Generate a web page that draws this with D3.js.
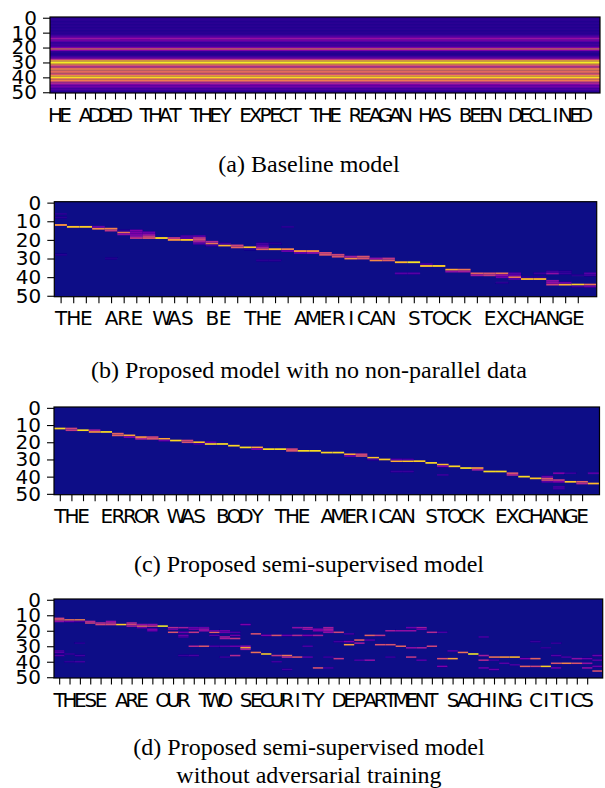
<!DOCTYPE html>
<html>
<head>
<meta charset="utf-8">
<script src="https://d3js.org/d3.v7.min.js"></script>
<style>
    html, body { margin: 0; padding: 0; background: #fff; }
    svg { display: block; }
    .tick text { font-family: "DejaVu Sans"; font-size: 20px; fill: #000; }
    .caption { font-family: "Liberation Serif"; font-size: 24px; fill: #000; text-anchor: middle; }
</style>
</head>
<body>
<div id="chart"></div>
<script>
// tick labels, one character per frame
const textA = "HE ADDED THAT THEY EXPECT THE REAGAN HAS BEEN DECLINED";
const textB = "THE ARE WAS BE THE AMERICAN STOCK EXCHANGE";
const textC = "THE ERROR WAS BODY THE AMERICAN STOCK EXCHANGE";
const textD = "THESE ARE OUR TWO SECURITY DEPARTMENT SACHING CITICS";
const yTicks = [0, 10, 20, 30, 40, 50];

// baseline model: same attention on every frame, one value per row
const baselineRows = [
    .06, .06, .05, .05, .05, .05, .05, .05, .05, .05, .05, .07, .1,
    .22, .32, .28, .15, .1, .1, .12, .25, .62, .25, .08, .03, .05,
    .1, .2, .45, .85, .97, .88, .55, .45, .62, .72, .62, .65, .55,
    .8, .93, .75, .68, .55, .38, .28, .22, .18, .13, .08, .05,
];
// small frame to frame change of the baseline strength
const baselineGain = [
    1, 1, 1, 1, 1, .99, .98, .97, .97, .97, 1, 1, 1, 1, .98, .98, 1, 1,
    1, 1, .98, .98, .98, 1, 1, 1, 1, 1, 1, 1, .98, .98, .98, 1, 1, .98,
    .98, 1, 1, 1, 1, .98, .98, .98, .98, 1, 1, 1, 1, 1, .98, .98, .98, 1, 1,
];

// attention per frame as [row, value]
const attentionB = [
    [[12, .75], [6, .05], [8, .05], [28, .04]],
    [[13, .88]], [[13, .9]],
    [[14, .72], [13, .2]], [[14, .7], [15, .45], [30, .03]],
    [[16, .65], [17, .3], [15, .05]],
    [[19, .45], [15, .25], [16, .25], [17, .25], [18, .28]],
    [[19, .55], [18, .45], [17, .3], [16, .2]],
    [[19, .92]], [[20, .75], [19, .45]],
    [[20, .88], [19, .15], [18, .12]],
    [[20, .5], [19, .45], [21, .35], [22, .15], [18, .15]],
    [[22, .65], [21, .4], [23, .1]],
    [[23, .85], [22, .1]], [[24, .6], [23, .5]], [[24, .88], [25, .05]],
    [[25, .6], [24, .35], [23, .15], [22, .12], [31, .05]],
    [[25, .85], [31, .05], [22, .04]],
    [[25, .7], [26, .2], [13, .05]],
    [[26, .75], [27, .2]], [[26, .72], [27, .3]], [[28, .55], [27, .5]],
    [[29, .55], [28, .5]], [[30, .72], [29, .35]], [[30, .55], [29, .55]],
    [[31, .72], [30, .3]], [[31, .6], [30, .45]],
    [[32, .85], [38, .15]], [[32, .95], [38, .15]],
    [[34, .88], [33, .12]], [[34, .9]],
    [[36, .8], [37, .3]], [[36, .65], [37, .35]],
    [[38, .6], [39, .35]], [[38, .55], [39, .45]],
    [[38, .65], [39, .3], [40, .2], [43, .05]],
    [[40, .65], [41, .15], [39, .2], [38, .15]],
    [[41, .85], [40, .05]], [[41, .85], [38, .08], [40, .05]],
    [[44, .5], [43, .3], [42, .28], [38, .3], [37, .1]],
    [[44, .82], [43, .2], [38, .08], [37, .06]],
    [[44, .9], [45, .1], [39, .05]],
    [[44, .65], [45, .2], [38, .15], [39, .1]],
];

const attentionC = [
    [[12, .92]], [[12, .5], [13, .45]], [[13, .93]],
    [[14, .75], [13, .35]], [[14, .93]], [[15, .6], [16, .6]],
    [[16, .8], [17, .25]], [[17, .75], [18, .4]], [[18, .55], [17, .5]],
    [[18, .8], [19, .2]], [[19, .92]], [[20, .55], [19, .5]],
    [[20, .88], [21, .1]], [[21, .92], [20, .15]], [[21, .93]], [[22, .92]],
    [[23, .93]], [[23, .8], [24, .25]], [[24, .93]], [[24, .93]],
    [[25, .55], [24, .5]], [[25, .93]], [[25, .93]], [[26, .92]], [[26, .93]],
    [[27, .8], [28, .2]], [[28, .55], [27, .5]], [[29, .88], [30, .1]],
    [[30, .9]], [[31, .82], [30, .15], [37, .08]], [[31, .88], [30, .12], [37, .08]],
    [[31, .9]], [[32, .92]], [[33, .85], [34, .25], [39, .08]], [[34, .92]],
    [[35, .93]], [[35, .78], [36, .35]], [[37, .93]], [[37, .93]],
    [[38, .55], [39, .4]], [[40, .93]], [[41, .88]],
    [[41, .55], [42, .5], [43, .15], [40, .2]],
    [[42, .45], [43, .25], [38, .25], [46, .12], [47, .1]],
    [[43, .88], [38, .08]], [[43, .6], [44, .4]], [[44, .85], [38, .15]],
];

const attentionD = [
    [[13, .55], [12, .5], [14, .3], [33, .12], [34, .15], [36, .15]],
    [[13, .65], [14, .2], [35, .07], [40, .06]],
    [[13, .7], [14, .12], [28, .05], [36, .1], [40, .1]],
    [[15, .5], [14, .4]], [[15, .4], [16, .5]], [[14, .3], [15, .4], [16, .5]],
    [[16, .9]], [[15, .4], [16, .5], [17, .35]],
    [[17, .65], [16, .3], [18, .2]], [[17, .5], [16, .3], [19, .25], [20, .2]],
    [[17, .97]], [[18, .4], [19, .2], [21, .55]],
    [[18, .35], [21, .2], [23, .2], [24, .12], [36, .08]],
    [[18, .2], [19, .2], [21, .45], [30, .4], [36, .12]],
    [[18, .2], [19, .3], [20, .3], [30, .55]],
    [[21, .6], [20, .2], [23, .15], [30, .12]],
    [[20, .2], [21, .2], [24, .35], [25, .35], [30, .15], [37, .08]],
    [[25, .45], [23, .2], [21, .12], [30, .2], [36, .4]],
    [[16, .25], [31, .8], [32, .35], [30, .3]],
    [[22, .55], [34, .65]], [[23, .25], [35, .9]],
    [[23, .55], [36, .45], [40, .1]],
    [[23, .2], [36, .65], [37, .4], [45, .1]],
    [[18, .3], [23, .4], [37, .55]],
    [[18, .35], [19, .3], [23, .25], [30, .12], [37, .15]],
    [[19, .25], [20, .25], [23, .35], [44, .55]],
    [[18, .35], [19, .35], [20, .3], [21, .3], [37, .08], [44, .1]],
    [[21, .5], [27, .1], [38, .45]],
    [[29, .78], [27, .25], [22, .1]],
    [[26, .6], [28, .35], [39, .12]],
    [[23, .6], [26, .15], [39, .3]],
    [[23, .45], [29, .55]],
    [[20, .35], [29, .55], [37, .08]],
    [[20, .3], [30, .6]],
    [[18, .2], [20, .3], [31, .3], [37, .45]],
    [[18, .35], [19, .2], [31, .35], [39, .15]],
    [[21, .4], [30, .5]],
    [[21, .12], [38, .55], [43, .25]],
    [[33, .15], [38, .8]],
    [[34, .65]], [[35, .97]],
    [[24, .12], [36, .35], [39, .4], [44, .2]],
    [[37, .65], [39, .1], [45, .2]],
    [[37, .75], [41, .15]],
    [[37, .85], [42, .12]],
    [[38, .25], [43, .6]],
    [[38, .6], [27, .08], [43, .5]],
    [[43, .9], [31, .07]],
    [[41, .55], [36, .15], [44, .2], [28, .07]],
    [[41, .7], [37, .12]],
    [[41, .55], [38, .3]],
    [[41, .3], [44, .3], [38, .2]],
    [[46, .55], [36, .2], [43, .2], [39, .15]],
];

const captionsA = ["(a) Baseline model"];
const captionsB = ["(b) Proposed model with no non-parallel data"];
const captionsC = ["(c) Proposed semi-supervised model"];
const captionsD = ["(d) Proposed semi-supervised model", "without adversarial training"];

const rowCount = 51;
const width = 605;
const height = 788;

const svg = d3
    .select("#chart")
    .append("svg")
    .attr("width", width)
    .attr("height", height);

// the cells of the original are resampled, so soften them a little
svg.append("defs")
    .append("filter")
    .attr("id", "soft")
    .append("feGaussianBlur")
    .attr("stdDeviation", 0.35);

const color = d3.scaleSequential(d3.interpolatePlasma).domain([0, 1]);

function drawPanel(p) {
    const chars = p.text.split("");
    const colCount = p.cells.length;

    const x = d3
        .scaleLinear()
        .domain([-0.5, colCount - 0.5])
        .range([p.left, p.right]);
    const y = d3
        .scaleLinear()
        .domain([-0.5, rowCount - 0.5])
        .range([p.top, p.bottom]);

    const g = svg.append("g");
    const heat = g.append("g").attr("filter", "url(#soft)");

    heat.append("rect")
        .attr("x", x(-0.5))
        .attr("y", y(-0.5))
        .attr("width", x(colCount - 0.5) - x(-0.5))
        .attr("height", y(rowCount - 0.5) - y(-0.5))
        .attr("fill", color(0));

    // one group per frame, one rect per row that has attention
    heat.selectAll("g.frame")
        .data(p.cells)
        .enter()
        .append("g")
        .attr("class", "frame")
        .each(function (cells, col) {
            d3.select(this)
                .selectAll("rect")
                .data(cells)
                .enter()
                .append("rect")
                .attr("x", x(col - 0.5))
                .attr("width", x(col + 0.5) - x(col - 0.5))
                .attr("y", (d) => y(d[0] - 0.5))
                .attr("height", y(1) - y(0))
                .attr("fill", (d) => color(d[1]));
        });

    const xAxis = g
        .append("g")
        .attr("transform", `translate(0,${p.bottom})`)
        .call(
            d3
                .axisBottom(x)
                .tickValues(d3.range(chars.length))
                .tickFormat((i) => chars[i])
                .tickSize(6.5)
                .tickPadding(8)
        );
    const yAxis = g
        .append("g")
        .attr("transform", `translate(${p.left},0)`)
        .call(
            d3
                .axisLeft(y)
                .tickValues(yTicks)
                .tickFormat(d3.format("d"))
                .tickSize(7)
                .tickPadding(6)
        );

    xAxis.select(".domain").remove();
    yAxis.select(".domain").remove();
    xAxis.selectAll(".tick line").attr("stroke", "#000").attr("stroke-width", 1.1);
    yAxis.selectAll(".tick line").attr("stroke", "#000").attr("stroke-width", 1.1);

    g.append("rect")
        .attr("x", p.left)
        .attr("y", p.top)
        .attr("width", p.right - p.left)
        .attr("height", p.bottom - p.top)
        .attr("fill", "none")
        .attr("stroke", "#000")
        .attr("stroke-width", 1.2);

    svg.selectAll(null)
        .data(p.captions)
        .enter()
        .append("text")
        .attr("class", "caption")
        .attr("x", 309)
        .attr("y", (d, i) => p.captionY + i * 28)
        .text((d) => d);
}

// baseline is the same row profile on each frame
const cellsA = baselineGain.map((gain) =>
    baselineRows.map((v, row) => [row, v * gain])
);

drawPanel({ text: textA, cells: cellsA, captions: captionsA, left: 50, right: 600, top: 17, bottom: 93, captionY: 172 });
drawPanel({ text: textB, cells: attentionB, captions: captionsB, left: 54.3, right: 596.7, top: 201.7, bottom: 296.7, captionY: 378 });
drawPanel({ text: textC, cells: attentionC, captions: captionsC, left: 54, right: 599.5, top: 407, bottom: 494.7, captionY: 572 });
drawPanel({ text: textD, cells: attentionD, captions: captionsD, left: 54, right: 602.7, top: 599, bottom: 678, captionY: 755 });
</script>
</body>
</html>
